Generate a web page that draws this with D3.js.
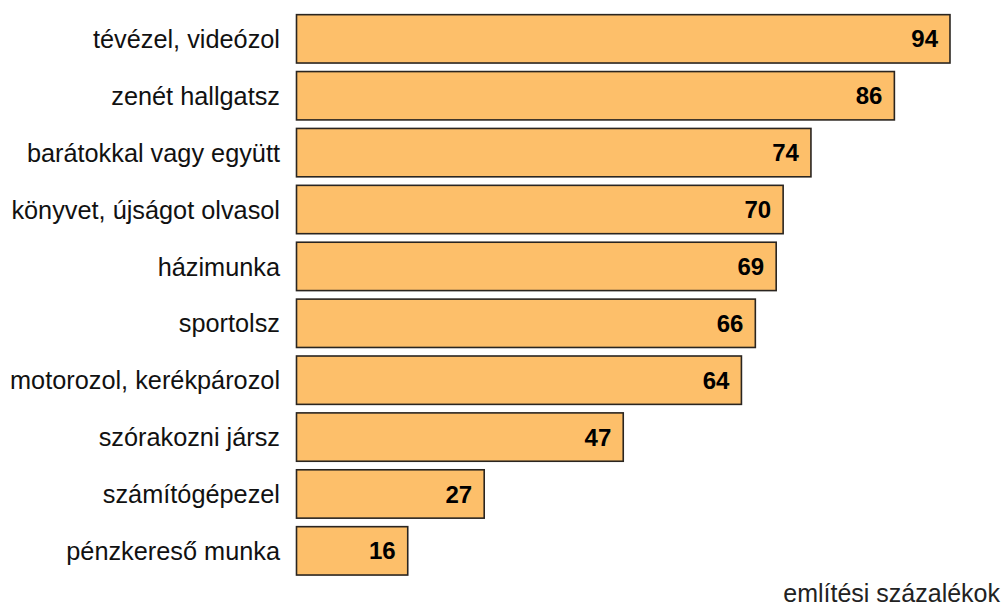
<!DOCTYPE html>
<html><head><meta charset="utf-8">
<script src="https://cdn.jsdelivr.net/npm/d3@7"></script>
<style>html,body{margin:0;padding:0;background:#fff;}svg{display:block;}</style>
</head><body>
<svg id="chart" width="1003" height="606"></svg>
<script>
const categories = ["tévézel, videózol","zenét hallgatsz","barátokkal vagy együtt","könyvet, újságot olvasol","házimunka","sportolsz","motorozol, kerékpározol","szórakozni jársz","számítógépezel","pénzkereső munka"];
const values = [94,86,74,70,69,66,64,47,27,16];
const axisTitle = "említési százalékok";

const svg = d3.select("#chart");
const font = "Liberation Sans, Arial, sans-serif";
const x = d3.scaleLinear().domain([0,100]).range([296.5,991.7]);
const y = d3.scaleBand().domain(categories).range([10.4,579.3]).paddingInner(0.15).paddingOuter(0.075);

svg.selectAll("rect.bar").data(categories).join("rect")
  .attr("class","bar")
  .attr("x", x(0))
  .attr("y", d=>y(d))
  .attr("width", (d,i)=>x(values[i])-x(0))
  .attr("height", y.bandwidth())
  .attr("fill","#FDBF6A")
  .attr("stroke","#2a2520")
  .attr("stroke-width",1.6);

svg.selectAll("text.val").data(categories).join("text")
  .attr("class","val")
  .attr("x",(d,i)=>x(values[i])-12)
  .attr("y", d=>y(d)+y.bandwidth()/2)
  .attr("dy","0.36em")
  .attr("text-anchor","end")
  .attr("font-family",font).attr("font-size",24).attr("font-weight","bold")
  .attr("fill","#000")
  .text((d,i)=>values[i]);

const yAxis = d3.axisLeft(y).tickSize(0).tickPadding(0);
const g = svg.append("g").attr("transform",`translate(${280},0)`).call(yAxis);
g.select(".domain").remove();
g.selectAll("text").attr("font-family",font).attr("font-size",25.3).attr("fill","#111").attr("dy","0.36em");

svg.append("text").attr("x",1000).attr("y",602).attr("text-anchor","end")
  .attr("font-family",font).attr("font-size",25).attr("fill","#222").text(axisTitle);
</script>
</body></html>
